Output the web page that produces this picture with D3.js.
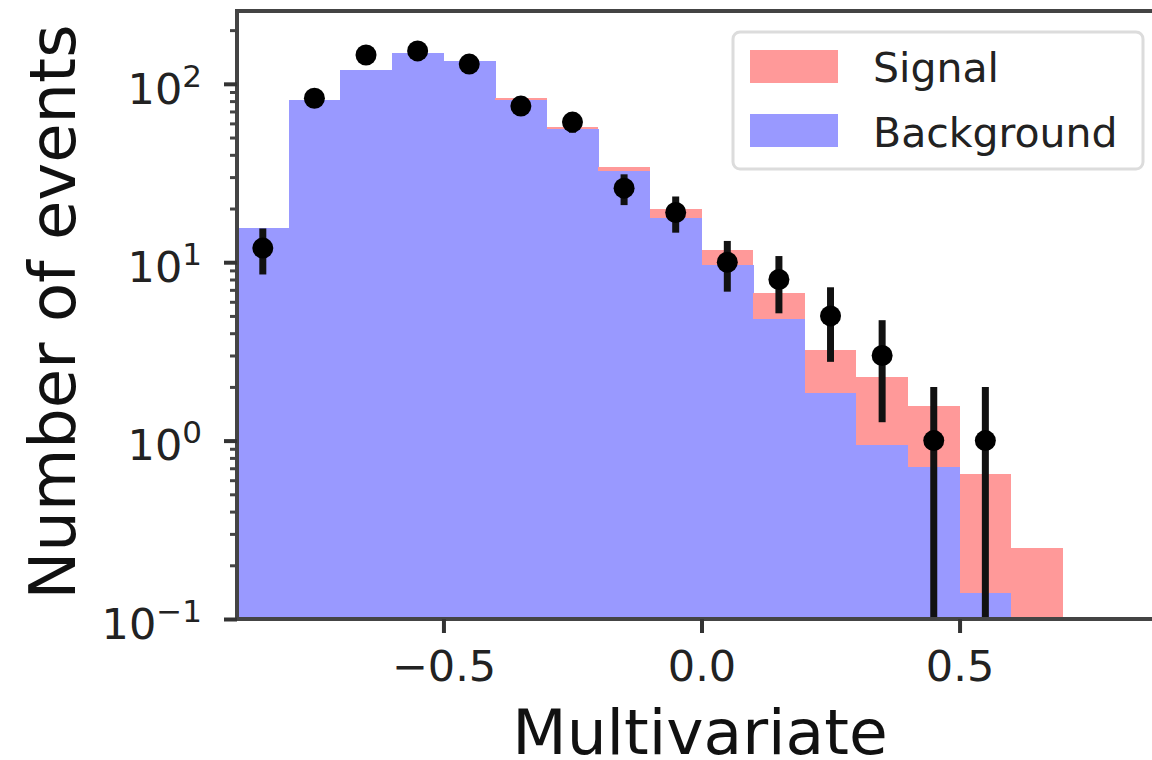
<!DOCTYPE html>
<html>
<head>
<meta charset="utf-8">
<script src="https://cdn.jsdelivr.net/npm/d3@7"></script>
<style>
  body { margin: 0; background: #fff; }
  text { font-family: "DejaVu Sans", sans-serif; }
</style>
</head>
<body>
<svg width="1152" height="760"></svg>
<script>
// histogram bins (edges) and stacked contents
const binEdges = [-0.9, -0.8, -0.7, -0.6, -0.5, -0.4, -0.3, -0.2, -0.1, 0.0, 0.1, 0.2, 0.3, 0.4, 0.5, 0.6, 0.7];
const background = [15.5, 81, 120, 149, 134, 81, 55.6, 32.6, 17.6, 9.6, 4.8, 1.84, 0.94, 0.71, 0.14, 0];
const signal = [0, 0, 0, 0, 1, 2.7, 2.0, 1.7, 2.2, 2.1, 1.9, 1.36, 1.33, 0.86, 0.51, 0.25];

// observed data points
const dataCenters = [-0.85, -0.75, -0.65, -0.55, -0.45, -0.35, -0.25, -0.15, -0.05, 0.05, 0.15, 0.25, 0.35, 0.45, 0.55];
const dataCounts = [12, 83, 145, 153, 129, 75, 61, 26, 19, 10, 8, 5, 3, 1, 1];

const xTicks = [-0.5, 0.0, 0.5];
const yTicks = [0.1, 1, 10, 100];
const yExp = ['−1', '0', '1', '2'];
const legendLabels = ['Signal', 'Background'];

const svg = d3.select('svg');
const pLeft = 237, pRight = 1166, pTop = 11, pBottom = 619;
const ymin = 0.1;

const x = d3.scaleLinear().domain([-0.9, 0.9]).range([pLeft, pRight]);
const y = d3.scaleLog().domain([ymin, 256]).range([pBottom, pTop]);
const yc = v => y(Math.max(v, ymin));

svg.append('clipPath').attr('id', 'plot')
  .append('rect').attr('x', pLeft).attr('y', pTop).attr('width', pRight - pLeft).attr('height', pBottom - pTop);

const plot = svg.append('g').attr('clip-path', 'url(#plot)');

const bins = background.map((b, i) => ({
  x0: binEdges[i], x1: binEdges[i + 1], bg: b, tot: b + signal[i]
}));

// background bars
plot.selectAll('rect.bg')
  .data(bins.filter(d => d.bg > 0))
  .join('rect')
  .attr('class', 'bg')
  .attr('x', d => x(d.x0))
  .attr('width', d => x(d.x1) - x(d.x0) + 0.6)
  .attr('y', d => yc(d.bg))
  .attr('height', d => pBottom - yc(d.bg))
  .attr('fill', '#9999ff')
  .attr('shape-rendering', 'crispEdges');

// signal stacked on top
plot.selectAll('rect.sig')
  .data(bins.filter(d => d.tot > d.bg))
  .join('rect')
  .attr('class', 'sig')
  .attr('x', d => x(d.x0))
  .attr('width', d => x(d.x1) - x(d.x0))
  .attr('y', d => yc(d.tot))
  .attr('height', d => yc(d.bg) - yc(d.tot))
  .attr('fill', '#ff9999')
  .attr('shape-rendering', 'crispEdges');

// error bars + points
const pts = dataCenters.map((c, i) => ({ c, n: dataCounts[i] }));
plot.selectAll('line.err')
  .data(pts)
  .join('line')
  .attr('class', 'err')
  .attr('x1', d => x(d.c)).attr('x2', d => x(d.c))
  .attr('y1', d => yc(d.n + Math.sqrt(d.n)))
  .attr('y2', d => d.n - Math.sqrt(d.n) > 0 ? yc(d.n - Math.sqrt(d.n)) : pBottom + 5)
  .attr('stroke', '#111')
  .attr('stroke-width', 7);

plot.selectAll('circle')
  .data(pts)
  .join('circle')
  .attr('cx', d => x(d.c))
  .attr('cy', d => y(d.n))
  .attr('r', 10.5)
  .attr('fill', '#000');

// frame
svg.append('rect')
  .attr('x', pLeft).attr('y', pTop)
  .attr('width', pRight - pLeft).attr('height', pBottom - pTop)
  .attr('fill', 'none')
  .attr('stroke', '#444')
  .attr('stroke-width', 4);

// x axis
const xAxis = svg.append('g')
  .attr('transform', `translate(0,${pBottom})`)
  .call(d3.axisBottom(x).tickValues(xTicks).tickFormat(d3.format('.1f')).tickSize(14).tickPadding(17));
xAxis.select('.domain').remove();
xAxis.selectAll('line').attr('stroke', '#333').attr('stroke-width', 4);
xAxis.selectAll('text').attr('font-size', 43).attr('fill', '#222');

// y axis minor ticks
const minor = [];
[0.1, 1, 10, 100].forEach(d => { for (let k = 2; k <= 9; k++) if (d * k < 256) minor.push(d * k); });
const yMinor = svg.append('g')
  .attr('transform', `translate(${pLeft},0)`)
  .call(d3.axisLeft(y).tickValues(minor).tickSize(7).tickFormat(''));
yMinor.select('.domain').remove();
yMinor.selectAll('line').attr('stroke', '#444').attr('stroke-width', 3);

// y axis major ticks with superscript labels
const yAxis = svg.append('g')
  .attr('transform', `translate(${pLeft},0)`)
  .call(d3.axisLeft(y).tickValues(yTicks).tickSize(13).tickPadding(22).tickFormat(''));
yAxis.select('.domain').remove();
yAxis.selectAll('line').attr('stroke', '#333').attr('stroke-width', 4);
yAxis.selectAll('.tick').each(function (d, i) {
  const t = d3.select(this).select('text')
    .attr('font-size', 43).attr('fill', '#222').attr('dy', '0.45em');
  t.append('tspan').text('10');
  t.append('tspan').text(yExp[i]).attr('font-size', 31).attr('dy', -17);
});

// axis labels
svg.append('text')
  .attr('x', 700)
  .attr('y', 754)
  .attr('text-anchor', 'middle')
  .attr('font-size', 63)
  .attr('fill', '#111')
  .text('Multivariate');

svg.append('text')
  .attr('transform', 'translate(75,312) rotate(-90)')
  .attr('text-anchor', 'middle')
  .attr('font-size', 64)
  .attr('fill', '#111')
  .text('Number of events');

// legend
const legend = svg.append('g');
legend.append('rect')
  .attr('x', 733).attr('y', 32).attr('width', 410).attr('height', 137)
  .attr('rx', 7)
  .attr('fill', '#fff').attr('fill-opacity', 0.85)
  .attr('stroke', '#dcdcdc').attr('stroke-width', 3);
const legendColors = ['#ff9999', '#9999ff'];
legendLabels.forEach((name, i) => {
  legend.append('rect')
    .attr('x', 750).attr('y', 50 + i * 64)
    .attr('width', 88).attr('height', 33)
    .attr('fill', legendColors[i]);
  legend.append('text')
    .attr('x', 873).attr('y', 67 + i * 65)
    .attr('dy', '0.36em')
    .attr('font-size', 41)
    .attr('fill', '#222')
    .text(name);
});
</script>
</body>
</html>
